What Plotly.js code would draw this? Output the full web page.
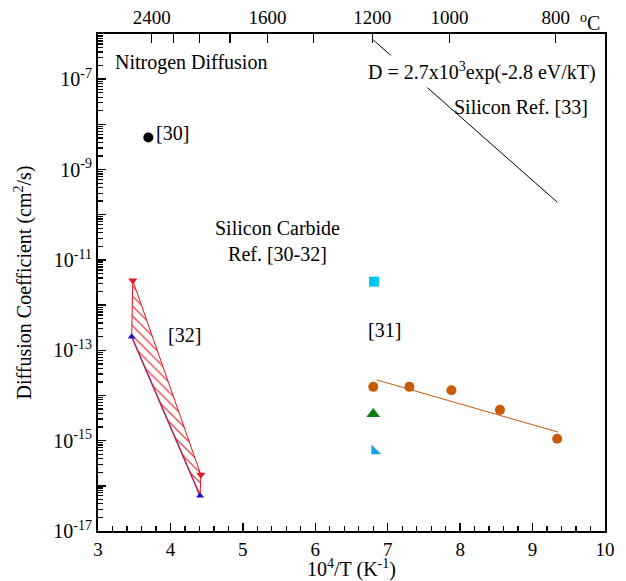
<!DOCTYPE html>
<html>
<head>
<meta charset="utf-8">
<script src="https://cdn.plot.ly/plotly-3.0.1.min.js"></script>
<style>html,body{margin:0;padding:0;background:#fff;}#chart{width:626px;height:581px;}</style>
</head>
<body>
<div id="chart"></div>
<script>
// ---- Data ----
// Nitrogen diffusion in silicon carbide, Ref. [30]
const ref30X = [3.695];
const ref30Y = [5.1e-9];

// Silicon, Ref. [33]: D = 2.7e3 exp(-2.8 eV/kT), drawn between 1200 C and 800 C
const siliconX = [6.80, 9.34];
const siliconY = [7.4e-7, 1.9e-10];

// Ref. [32] band: upper (red) and lower (blue) bounds
const ref32UpperX = [3.48, 4.42];
const ref32UpperY = [3.5e-12, 1.75e-16];
const ref32LowerX = [3.465, 4.41];
const ref32LowerY = [2.0e-13, 6.0e-17];

// Ref. [31]
const ref31OrangeX = [6.80, 7.30, 7.88, 8.55, 9.34];
const ref31OrangeY = [1.55e-14, 1.55e-14, 1.3e-14, 4.8e-15, 1.1e-15];
const ref31FitX = [6.85, 9.35];
const ref31FitY = [2.2e-14, 1.55e-15];
const ref31SquareX = [6.81];
const ref31SquareY = [3.3e-12];
const ref31GreenX = [6.80];
const ref31GreenY = [3.9e-15];
const ref31BlueX = [6.82];
const ref31BlueY = [5.9e-16];

// Axis ticks
const yDecades = [-17, -16, -15, -14, -13, -12, -11, -10, -9, -8, -7, -6];
const yLabelled = [-17, -15, -13, -11, -9, -7];
const yMinorDigits = [2, 3, 4, 5, 6, 7, 8, 9];
const xMinorStep = 0.2;
const celsiusTicks = [2400, 2200, 2000, 1800, 1600, 1400, 1200, 1000, 800];
const celsiusLabels = ['2400', '', '', '', '1600', '', '1200', '1000', '800'];

// ---- Build chart ----
const FONT = "'Liberation Serif', 'Times New Roman', Times, serif";
const TXT = '#000';
const ORANGE = '#c85a0a';
const RED = '#e8141e';
const BLUE = '#1414c8';

const polyX = [ref32UpperX[0], ref32UpperX[1], ref32LowerX[1], ref32LowerX[0], ref32UpperX[0]];
const polyY = [ref32UpperY[0], ref32UpperY[1], ref32LowerY[1], ref32LowerY[0], ref32UpperY[0]];

const traces = [
  {x: ref32LowerX, y: ref32LowerY, mode: 'lines', line: {color: BLUE, width: 1.5}, opacity: 0.7},
  {x: polyX, y: polyY, mode: 'lines', fill: 'toself', fillcolor: 'rgba(255,255,255,0)',
   fillpattern: {shape: '\\', fgcolor: RED, bgcolor: 'rgba(255,255,255,0)', size: 7, solidity: 0.16},
   line: {color: RED, width: 1}, hoverinfo: 'skip'},
  {x: ref32UpperX, y: ref32UpperY, mode: 'markers',
   marker: {symbol: 'triangle-down', size: 8, color: RED}},
  {x: ref32LowerX, y: ref32LowerY, mode: 'markers',
   marker: {symbol: 'triangle-up', size: 7, color: BLUE}},
  {x: ref30X, y: ref30Y, mode: 'markers', marker: {symbol: 'circle', size: 10, color: '#000'}},
  {x: siliconX, y: siliconY, mode: 'lines', line: {color: '#000', width: 1}, xaxis: 'x2'},
  {x: ref31FitX, y: ref31FitY, mode: 'lines', line: {color: ORANGE, width: 1}, xaxis: 'x3', yaxis: 'y2'},
  {x: ref31OrangeX, y: ref31OrangeY, mode: 'markers', marker: {symbol: 'circle', size: 10, color: ORANGE}},
  {x: ref31SquareX, y: ref31SquareY, mode: 'markers', marker: {symbol: 'square', size: 10, color: '#00c4f6'}},
  {x: ref31GreenX, y: ref31GreenY, mode: 'markers', marker: {symbol: 'triangle-up', size: 12, color: '#107c14'}},
  {x: ref31BlueX, y: ref31BlueY, mode: 'markers', marker: {symbol: 'triangle-sw', size: 11, color: '#1a9ee2'}}
];

const yTickVals = yDecades.map(e => Math.pow(10, e));
const yTickText = yDecades.map(e => yLabelled.includes(e) ? '10<sup>' + e + '</sup>' : '');
const yMinorVals = [];
yDecades.slice(0, -1).forEach(e => yMinorDigits.forEach(d => yMinorVals.push(d * Math.pow(10, e))));
const xMinorVals = [];
for (let i = 0; i <= 35; i++) { const v = 3 + i * xMinorStep; if (Math.abs(v - Math.round(v)) > 1e-6) xMinorVals.push(v); }
const topTickVals = celsiusTicks.map(c => 1e4 / (c + 273.15));

function ann(text, x, ly, extra) {
  return Object.assign({text: text, x: x, y: ly, xref: 'x', yref: 'y', showarrow: false,
    font: {family: FONT, size: 20, color: TXT}, xanchor: 'center', yanchor: 'middle'}, extra || {});
}

const layout = {
  width: 626, height: 581,
  margin: {l: 98, r: 21, t: 34, b: 50},
  paper_bgcolor: '#fff', plot_bgcolor: '#fff',
  showlegend: false,
  font: {family: FONT, size: 20, color: TXT},
  xaxis: {
    range: [3, 10], tickmode: 'linear', dtick: 1, tick0: 3, ticks: 'inside', ticklen: 8, tickwidth: 1.5, tickcolor: '#000',
    showline: true, linewidth: 2, linecolor: '#000', showgrid: false, zeroline: false, layer: 'above traces',
    tickfont: {family: FONT, size: 19, color: TXT},
    title: {text: '10<sup>4</sup>/T (K<sup>-1</sup>)', font: {family: FONT, size: 20, color: TXT}, standoff: 5}
  },
  xaxis3: {
    overlaying: 'x', side: 'bottom', anchor: 'y', range: [3, 10],
    tickmode: 'array', tickvals: xMinorVals, showticklabels: false,
    ticks: 'inside', ticklen: 5, tickwidth: 1.3, tickcolor: '#000',
    showline: false, showgrid: false, zeroline: false, layer: 'above traces'
  },
  xaxis2: {
    overlaying: 'x', side: 'top', anchor: 'y', range: [3, 10],
    tickmode: 'array', tickvals: topTickVals, ticktext: celsiusLabels,
    ticks: 'inside', ticklen: 9, tickwidth: 1.3, tickcolor: '#000',
    showline: true, linewidth: 2, linecolor: '#000', showgrid: false, zeroline: false, layer: 'above traces',
    tickfont: {family: FONT, size: 19, color: TXT}
  },
  yaxis: {
    type: 'log', range: [-17, -6],
    tickmode: 'array', tickvals: yTickVals, ticktext: yTickText,
    ticks: 'inside', ticklen: 8, tickwidth: 1.5, tickcolor: '#000',
    showline: true, linewidth: 2, linecolor: '#000', mirror: true, showgrid: false, zeroline: false, layer: 'above traces',
    tickfont: {family: FONT, size: 20, color: TXT},
    title: {text: 'Diffusion Coefficient (cm<sup>2</sup>/s)', font: {family: FONT, size: 20, color: TXT}, standoff: 16}
  },
  yaxis2: {
    type: 'log', range: [-17, -6], overlaying: 'y', side: 'left', anchor: 'x',
    tickmode: 'array', tickvals: yMinorVals, showticklabels: false,
    ticks: 'inside', ticklen: 5, tickwidth: 1.3, tickcolor: '#000',
    showline: false, showgrid: false, zeroline: false, layer: 'above traces'
  },
  annotations: [
    ann('Nitrogen Diffusion', 4.284, -6.62),
    ann('[30]', 4.022, -8.19),
    ann('Silicon Carbide<br>Ref. [30-32]', 5.485, -10.58),
    ann('[32]', 4.20, -12.66),
    ann('[31]', 6.95, -12.55),
    ann('D = 2.7x10<sup>3</sup>exp(-2.8 eV/kT)', 8.30, -6.82, {bgcolor: '#fff', borderpad: 3}),
    ann('Silicon Ref. [33]', 8.84, -7.62),
    {text: '<sup>o</sup>C', xref: 'paper', yref: 'paper', x: 0.97, y: 1.025, showarrow: false,
     xanchor: 'center', yanchor: 'middle', font: {family: FONT, size: 20, color: TXT}}
  ]
};

Plotly.newPlot('chart', traces, layout, {displayModeBar: false, staticPlot: true});
</script>
</body>
</html>
